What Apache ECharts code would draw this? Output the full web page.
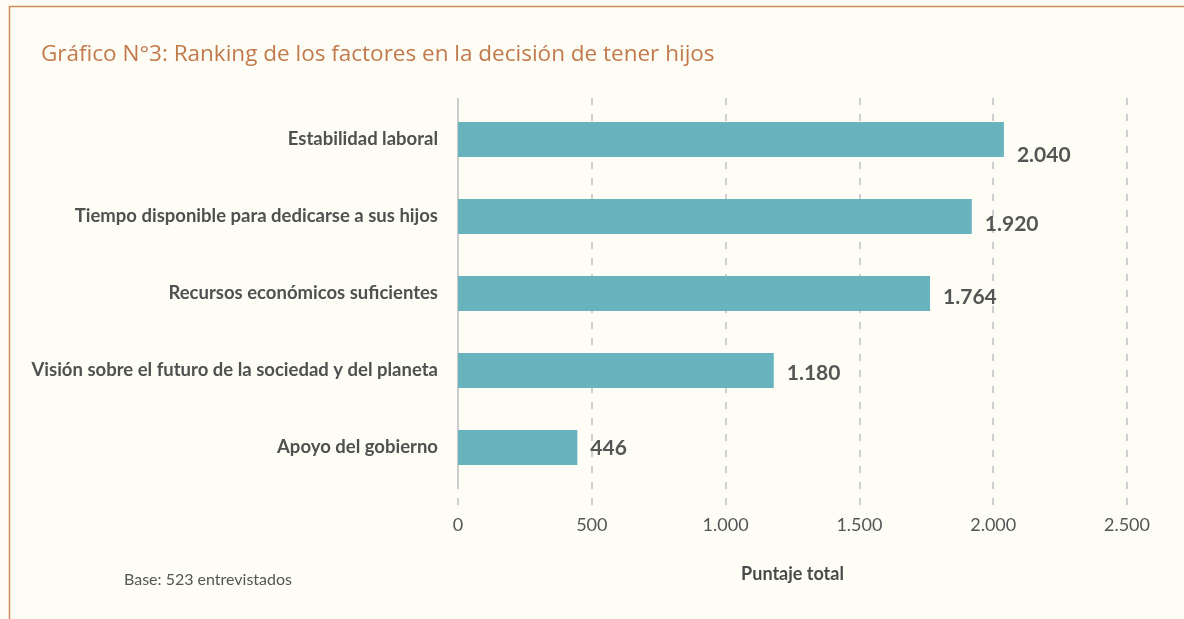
<!DOCTYPE html>
<html>
<head>
<meta charset="utf-8">
<script src="https://cdn.jsdelivr.net/npm/echarts@6/dist/echarts.min.js"></script>
<style>
  html, body { margin: 0; padding: 0; background: #fdfdf5; }
  #chart { width: 1184px; height: 619px; }
</style>
</head>
<body>
<div id="chart"></div>
<script>
var categories = [
  "Estabilidad laboral",
  "Tiempo disponible para dedicarse a sus hijos",
  "Recursos económicos suficientes",
  "Visión sobre el futuro de la sociedad y del planeta",
  "Apoyo del gobierno"
];
var scores = [2040, 1920, 1764, 1180, 446];
var tickMax = 2500;
var tickStep = 500;

var barColor = "#69b3bf";
var font = "Lato, 'Open Sans', sans-serif";
// pequeño desplazamiento vertical de las etiquetas de valor, como en el original
var labelNudge = [16, 8, 4, 3, 1];

function fmt(v) {
  // separador de miles con punto
  return String(v).replace(/\B(?=(\d{3})+(?!\d))/g, ".");
}

var myChart = echarts.init(document.getElementById("chart"));
myChart.setOption({
  backgroundColor: "#fdfdf5",
  animation: false,
  graphic: [
    {
      type: "polyline",
      shape: { points: [[9.5, 619], [9.5, 6.5], [1184, 6.5]] },
      style: { stroke: "#d08a5e", lineWidth: 1.5, fill: null }
    },
    {
      type: "text",
      left: 41,
      top: 43,
      style: {
        text: "Gráfico N°3: Ranking de los factores en la decisión de tener hijos",
        fill: "#c27a4c",
        font: "500 22.5px 'Open Sans', sans-serif"
      }
    },
    {
      type: "text",
      left: 124,
      top: 572,
      style: {
        text: "Base: 523 entrevistados",
        fill: "#555",
        font: "16px " + font
      }
    }
  ],
  grid: [
    // rejilla de fondo (líneas punteadas + ticks)
    { left: 458, right: 57, top: 98, bottom: 114 },
    // barras
    { left: 458, right: 57, top: 101, bottom: 133 }
  ],
  xAxis: [
    {
      gridIndex: 0,
      type: "value",
      min: 0,
      max: tickMax,
      interval: tickStep,
      axisLine: { show: false },
      axisTick: { show: false },
      axisLabel: {
        color: "#555",
        fontSize: 18,
        fontFamily: font,
        margin: 11,
        formatter: fmt
      },
      splitLine: {
        show: true,
        lineStyle: { color: "#cfcfcf", width: 2, type: [7, 9] }
      },
      name: "Puntaje total",
      nameLocation: "middle",
      nameGap: 60,
      nameTextStyle: {
        color: "#4a4a4a",
        fontSize: 18,
        fontWeight: "bold",
        fontFamily: font
      }
    },
    {
      gridIndex: 1,
      type: "value",
      min: 0,
      max: tickMax,
      interval: tickStep,
      show: false,
      splitLine: { show: false }
    }
  ],
  yAxis: [
    {
      gridIndex: 0,
      type: "category",
      data: categories,
      inverse: true,
      show: false
    },
    {
      gridIndex: 1,
      type: "category",
      data: categories,
      inverse: true,
      axisLine: { show: true, lineStyle: { color: "#cccccc", width: 2 } },
      axisTick: { show: false },
      axisLabel: {
        color: "#505050",
        fontSize: 18.5,
        fontWeight: "bold",
        fontFamily: font,
        margin: 20
      }
    }
  ],
  series: [
    {
      type: "bar",
      xAxisIndex: 1,
      yAxisIndex: 1,
      data: scores.map(function (v, i) {
        return { value: v, label: { offset: [0, labelNudge[i]] } };
      }),
      barWidth: 35,
      itemStyle: { color: barColor },
      label: {
        show: true,
        position: "right",
        distance: 13,
        color: "#555",
        fontSize: 21,
        fontWeight: "bold",
        fontFamily: font,
        formatter: function (p) {
          return fmt(p.value);
        }
      }
    }
  ]
});
</script>
</body>
</html>
